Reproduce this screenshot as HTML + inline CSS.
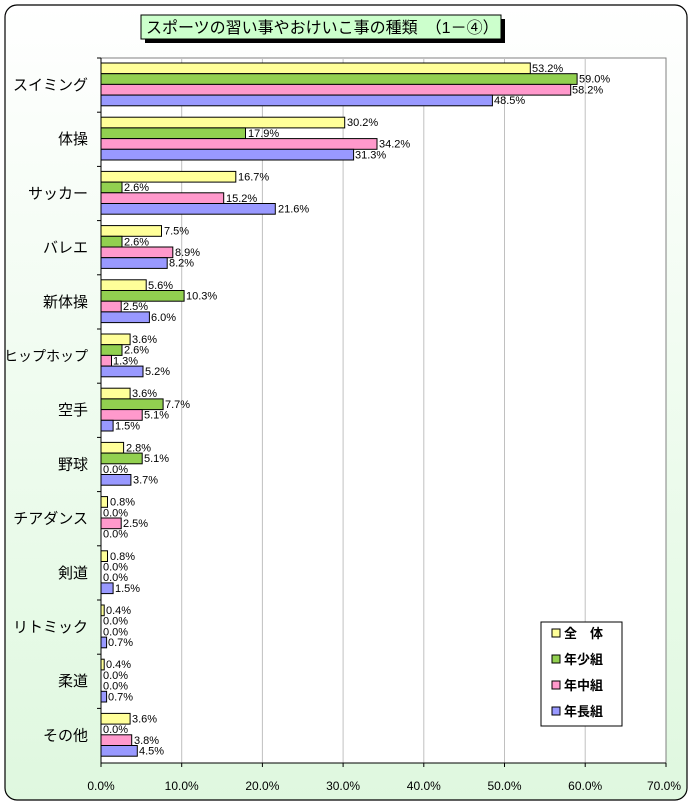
<!DOCTYPE html>
<html><head><meta charset="utf-8"><style>
body{margin:0;width:692px;height:806px;overflow:hidden;background:#fff}
svg{display:block}
text{font-family:"Liberation Sans","Noto Sans CJK JP",sans-serif}
</style></head><body>
<svg width="692" height="806" viewBox="0 0 692 806">
<defs><linearGradient id="bg" x1="0" y1="0" x2="0" y2="1"><stop offset="0" stop-color="#ffffff"/><stop offset="1" stop-color="#dff8df"/></linearGradient></defs>
<rect x="5" y="5" width="682" height="795" rx="12" fill="url(#bg)" stroke="#000" stroke-width="1.2"/>
<rect x="101" y="58" width="565" height="705" fill="#fff" stroke="#808080"/>
<g stroke="#c0c0c0">
<line x1="181.7" y1="58" x2="181.7" y2="763"/><line x1="262.4" y1="58" x2="262.4" y2="763"/><line x1="343.1" y1="58" x2="343.1" y2="763"/><line x1="423.8" y1="58" x2="423.8" y2="763"/><line x1="504.5" y1="58" x2="504.5" y2="763"/><line x1="585.2" y1="58" x2="585.2" y2="763"/>
</g>
<g stroke="#000">
<line x1="101" y1="58" x2="101" y2="763"/><line x1="101" y1="763" x2="666" y2="763"/>
<line x1="97" y1="58" x2="101" y2="58"/><line x1="97" y1="112.2" x2="101" y2="112.2"/><line x1="97" y1="166.4" x2="101" y2="166.4"/><line x1="97" y1="220.6" x2="101" y2="220.6"/><line x1="97" y1="274.8" x2="101" y2="274.8"/><line x1="97" y1="329" x2="101" y2="329"/><line x1="97" y1="383.2" x2="101" y2="383.2"/><line x1="97" y1="437.4" x2="101" y2="437.4"/><line x1="97" y1="491.6" x2="101" y2="491.6"/><line x1="97" y1="545.8" x2="101" y2="545.8"/><line x1="97" y1="600" x2="101" y2="600"/><line x1="97" y1="654.2" x2="101" y2="654.2"/><line x1="97" y1="708.4" x2="101" y2="708.4"/>
<line x1="101" y1="763" x2="101" y2="767"/><line x1="181.7" y1="763" x2="181.7" y2="767"/><line x1="262.4" y1="763" x2="262.4" y2="767"/><line x1="343.1" y1="763" x2="343.1" y2="767"/><line x1="423.8" y1="763" x2="423.8" y2="767"/><line x1="504.5" y1="763" x2="504.5" y2="767"/><line x1="585.2" y1="763" x2="585.2" y2="767"/><line x1="666" y1="763" x2="666" y2="767"/>
</g>
<g font-size="12" text-anchor="middle" fill="#000">
<text x="101" y="790">0.0%</text><text x="181.7" y="790">10.0%</text><text x="262.4" y="790">20.0%</text><text x="343.1" y="790">30.0%</text><text x="423.8" y="790">40.0%</text><text x="504.5" y="790">50.0%</text><text x="585.2" y="790">60.0%</text><text x="664" y="790">70.0%</text>
</g>
<rect x="145" y="19" width="360" height="24" fill="#000"/>
<rect x="141" y="15" width="360" height="24" fill="#ccffcc" stroke="#000"/>
<text x="146" y="33" font-size="16">スポーツの習い事やおけいこ事の種類　（1－④）</text>
<g font-size="11" fill="#000" stroke="#000" stroke-width="1">
<g transform="translate(0,58)"><rect x="101" y="5" width="429.3" height="10.7" fill="#ffff99"/><rect x="101" y="15.7" width="476.1" height="10.7" fill="#92d050"/><rect x="101" y="26.4" width="469.7" height="10.7" fill="#ff99cc"/><rect x="101" y="37.1" width="391.4" height="10.7" fill="#9999ff"/>
<g stroke="none"><text x="532" y="14">53.2%</text><text x="579" y="24.7">59.0%</text><text x="572" y="35.4">58.2%</text><text x="494" y="46.1">48.5%</text><text x="88" y="32" font-size="15" text-anchor="end">スイミング</text></g></g>
<g transform="translate(0,112.2)"><rect x="101" y="5" width="243.7" height="10.7" fill="#ffff99"/><rect x="101" y="15.7" width="144.5" height="10.7" fill="#92d050"/><rect x="101" y="26.4" width="276" height="10.7" fill="#ff99cc"/><rect x="101" y="37.1" width="252.6" height="10.7" fill="#9999ff"/>
<g stroke="none"><text x="347" y="14">30.2%</text><text x="248" y="24.7">17.9%</text><text x="379" y="35.4">34.2%</text><text x="355" y="46.1">31.3%</text><text x="88" y="32" font-size="15" text-anchor="end">体操</text></g></g>
<g transform="translate(0,166.4)"><rect x="101" y="5" width="134.8" height="10.7" fill="#ffff99"/><rect x="101" y="15.7" width="21" height="10.7" fill="#92d050"/><rect x="101" y="26.4" width="122.7" height="10.7" fill="#ff99cc"/><rect x="101" y="37.1" width="174.3" height="10.7" fill="#9999ff"/>
<g stroke="none"><text x="238" y="14">16.7%</text><text x="124" y="24.7">2.6%</text><text x="226" y="35.4">15.2%</text><text x="278" y="46.1">21.6%</text><text x="88" y="32" font-size="15" text-anchor="end">サッカー</text></g></g>
<g transform="translate(0,220.6)"><rect x="101" y="5" width="60.5" height="10.7" fill="#ffff99"/><rect x="101" y="15.7" width="21" height="10.7" fill="#92d050"/><rect x="101" y="26.4" width="71.8" height="10.7" fill="#ff99cc"/><rect x="101" y="37.1" width="66.2" height="10.7" fill="#9999ff"/>
<g stroke="none"><text x="164" y="14">7.5%</text><text x="124" y="24.7">2.6%</text><text x="175" y="35.4">8.9%</text><text x="169" y="46.1">8.2%</text><text x="88" y="32" font-size="15" text-anchor="end">バレエ</text></g></g>
<g transform="translate(0,274.8)"><rect x="101" y="5" width="45.2" height="10.7" fill="#ffff99"/><rect x="101" y="15.7" width="83.1" height="10.7" fill="#92d050"/><rect x="101" y="26.4" width="20.2" height="10.7" fill="#ff99cc"/><rect x="101" y="37.1" width="48.4" height="10.7" fill="#9999ff"/>
<g stroke="none"><text x="148" y="14">5.6%</text><text x="186" y="24.7">10.3%</text><text x="123" y="35.4">2.5%</text><text x="151" y="46.1">6.0%</text><text x="88" y="32" font-size="15" text-anchor="end">新体操</text></g></g>
<g transform="translate(0,329)"><rect x="101" y="5" width="29.1" height="10.7" fill="#ffff99"/><rect x="101" y="15.7" width="21" height="10.7" fill="#92d050"/><rect x="101" y="26.4" width="10.5" height="10.7" fill="#ff99cc"/><rect x="101" y="37.1" width="42" height="10.7" fill="#9999ff"/>
<g stroke="none"><text x="132" y="14">3.6%</text><text x="124" y="24.7">2.6%</text><text x="113" y="35.4">1.3%</text><text x="145" y="46.1">5.2%</text><text x="88" y="32" font-size="14" text-anchor="end">ヒップホップ</text></g></g>
<g transform="translate(0,383.2)"><rect x="101" y="5" width="29.1" height="10.7" fill="#ffff99"/><rect x="101" y="15.7" width="62.1" height="10.7" fill="#92d050"/><rect x="101" y="26.4" width="41.2" height="10.7" fill="#ff99cc"/><rect x="101" y="37.1" width="12.1" height="10.7" fill="#9999ff"/>
<g stroke="none"><text x="132" y="14">3.6%</text><text x="165" y="24.7">7.7%</text><text x="144" y="35.4">5.1%</text><text x="115" y="46.1">1.5%</text><text x="88" y="32" font-size="15" text-anchor="end">空手</text></g></g>
<g transform="translate(0,437.4)"><rect x="101" y="5" width="22.6" height="10.7" fill="#ffff99"/><rect x="101" y="15.7" width="41.2" height="10.7" fill="#92d050"/><rect x="101" y="37.1" width="29.9" height="10.7" fill="#9999ff"/>
<g stroke="none"><text x="126" y="14">2.8%</text><text x="144" y="24.7">5.1%</text><text x="103" y="35.4">0.0%</text><text x="133" y="46.1">3.7%</text><text x="88" y="32" font-size="15" text-anchor="end">野球</text></g></g>
<g transform="translate(0,491.6)"><rect x="101" y="5" width="6.5" height="10.7" fill="#ffff99"/><rect x="101" y="26.4" width="20.2" height="10.7" fill="#ff99cc"/>
<g stroke="none"><text x="110" y="14">0.8%</text><text x="103" y="24.7">0.0%</text><text x="123" y="35.4">2.5%</text><text x="103" y="46.1">0.0%</text><text x="88" y="32" font-size="15" text-anchor="end">チアダンス</text></g></g>
<g transform="translate(0,545.8)"><rect x="101" y="5" width="6.5" height="10.7" fill="#ffff99"/><rect x="101" y="37.1" width="12.1" height="10.7" fill="#9999ff"/>
<g stroke="none"><text x="110" y="14">0.8%</text><text x="103" y="24.7">0.0%</text><text x="103" y="35.4">0.0%</text><text x="115" y="46.1">1.5%</text><text x="88" y="32" font-size="15" text-anchor="end">剣道</text></g></g>
<g transform="translate(0,600)"><rect x="101" y="5" width="3.2" height="10.7" fill="#ffff99"/><rect x="101" y="37.1" width="5.6" height="10.7" fill="#9999ff"/>
<g stroke="none"><text x="106" y="14">0.4%</text><text x="103" y="24.7">0.0%</text><text x="103" y="35.4">0.0%</text><text x="108" y="46.1">0.7%</text><text x="88" y="32" font-size="15" text-anchor="end">リトミック</text></g></g>
<g transform="translate(0,654.2)"><rect x="101" y="5" width="3.2" height="10.7" fill="#ffff99"/><rect x="101" y="37.1" width="5.6" height="10.7" fill="#9999ff"/>
<g stroke="none"><text x="106" y="14">0.4%</text><text x="103" y="24.7">0.0%</text><text x="103" y="35.4">0.0%</text><text x="108" y="46.1">0.7%</text><text x="88" y="32" font-size="15" text-anchor="end">柔道</text></g></g>
<g transform="translate(0,708.4)"><rect x="101" y="5" width="29.1" height="10.7" fill="#ffff99"/><rect x="101" y="26.4" width="30.7" height="10.7" fill="#ff99cc"/><rect x="101" y="37.1" width="36.3" height="10.7" fill="#9999ff"/>
<g stroke="none"><text x="132" y="14">3.6%</text><text x="103" y="24.7">0.0%</text><text x="134" y="35.4">3.8%</text><text x="139" y="46.1">4.5%</text><text x="88" y="32" font-size="15" text-anchor="end">その他</text></g></g>
</g>
<rect x="541" y="622" width="81" height="104" fill="#fff" stroke="#000"/>
<g stroke="#000"><rect x="552" y="629" width="8" height="8" fill="#ffff99"/><rect x="552" y="655" width="8" height="8" fill="#92d050"/><rect x="552" y="681" width="8" height="8" fill="#ff99cc"/><rect x="552" y="707" width="8" height="8" fill="#9999ff"/></g>
<g font-size="13" font-weight="bold" fill="#000"><text x="564" y="638">全　体</text><text x="564" y="664">年少組</text><text x="564" y="690">年中組</text><text x="564" y="716">年長組</text></g>
</svg>
</body></html>
